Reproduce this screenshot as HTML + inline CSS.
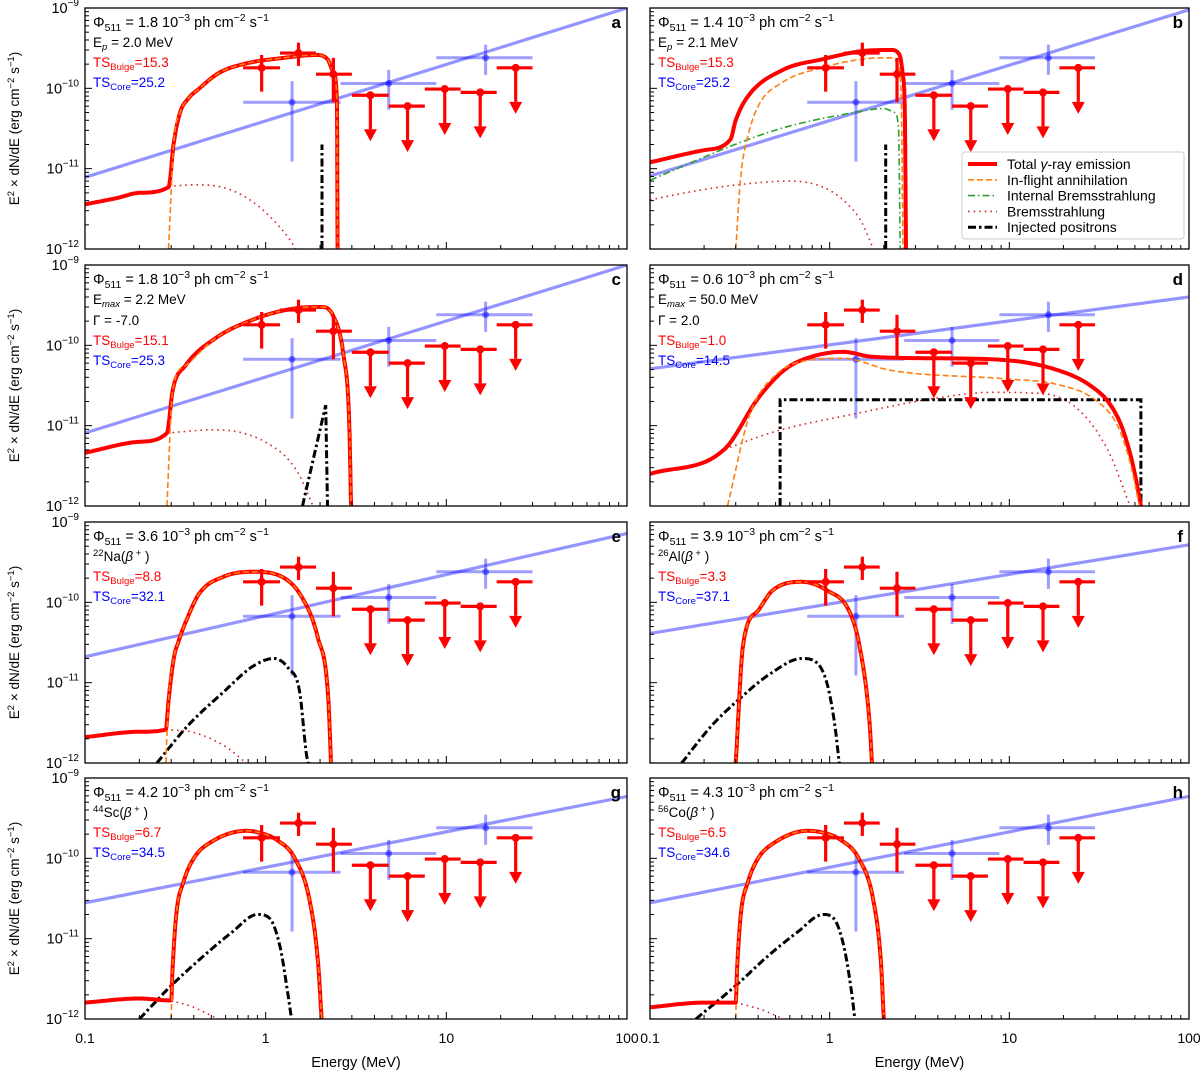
<!DOCTYPE html>
<html><head><meta charset="utf-8"><style>
html,body{margin:0;padding:0;background:#fff;}
svg{display:block;font-family:"Liberation Sans","DejaVu Sans",sans-serif;}
</style></head><body>
<svg id="chart" width="1200" height="1072" viewBox="0 0 1200 1072" xmlns="http://www.w3.org/2000/svg"></svg>
<script>
// ---- shared observed data ----
const bulgeE=[0.95,1.52,2.37];
const bulgeF=[1.8e-10,2.75e-10,1.5e-10];
const bulgeElo=[0.75,1.2,1.9];
const bulgeEhi=[1.2,1.9,3.0];
const bulgeFlo=[9.1e-11,1.9e-10,6.7e-11];
const bulgeFhi=[2.6e-10,3.7e-10,2.4e-10];
const ulE=[3.8,6.1,9.8,15.4,24.2];
const ulF=[8.2e-11,6.0e-11,9.8e-11,8.9e-11,1.8e-10];
const ulElo=[3.0,4.8,7.6,12,19];
const ulEhi=[4.8,7.6,12,19,30];
const coreE=[1.4,4.8,16.5];
const coreF=[6.7e-11,1.15e-10,2.4e-10];
const coreElo=[0.75,2.6,8.8];
const coreEhi=[2.6,8.8,30];
const coreFlo=[1.23e-11,5.4e-11,1.47e-10];
const coreFhi=[1.23e-10,1.7e-10,3.5e-10];
// core power-law fit: [value at 0.1 MeV, value at 100 MeV] per panel a..h
const plA=[7.8e-12,1.0e-9], plB=[8.1e-12,9.5e-10], plC=[8.1e-12,1.0e-9], plD=[5.1e-11,4.0e-10];
const plE=[2.1e-11,7.2e-10], plF=[4.1e-11,5.2e-10], plG=[2.8e-11,5.9e-10], plH=[2.8e-11,5.9e-10];
// ---- model curves [E, E2dN/dE] ----
const totalA=[[0.1,3.6e-12],[0.15,4.3e-12],[0.2,5e-12],[0.29,5.9e-12],[0.31,2.1e-11],[0.336,5e-11],[0.37,7.3e-11],[0.43,1e-10],[0.55,1.55e-10],[0.75,2e-10],[1.27,2.4e-10],[1.9,2.6e-10],[2.2,2.3e-10],[2.37,1.6e-10],[2.48,6.8e-11],[2.5,1e-12]];
const inflightA=[[0.29,1e-12],[0.31,2.1e-11],[0.336,5e-11],[0.37,7.3e-11],[0.43,1e-10],[0.55,1.55e-10],[0.75,2e-10],[1.27,2.4e-10],[1.9,2.6e-10],[2.2,2.3e-10],[2.37,1.6e-10],[2.48,6.8e-11],[2.5,1e-12]];
const bremsA=[[0.29,6e-12],[0.4,6.3e-12],[0.55,6e-12],[0.7,5e-12],[0.9,3.5e-12],[1.1,2.3e-12],[1.3,1.5e-12],[1.47,1e-12]];
const injA=[[2.05,1e-12],[2.05,2e-11]];

const totalB=[[0.1,1.2e-11],[0.2,1.7e-11],[0.28,2.3e-11],[0.3,4e-11],[0.35,7.9e-11],[0.55,1.7e-10],[0.91,2.3e-10],[1.5,2.9e-10],[2.2,3e-10],[2.45,2.6e-10],[2.55,1.5e-10],[2.62,5e-11],[2.66,1e-12]];
const inflightB=[[0.3,1e-12],[0.32,8e-12],[0.35,2.5e-11],[0.4,6e-11],[0.55,1.2e-10],[0.9,1.8e-10],[1.5,2.3e-10],[2.2,2.4e-10],[2.4,2e-10],[2.5,8e-11],[2.56,1e-12]];
const ibB=[[0.1,7.2e-12],[0.35,2.3e-11],[0.6,3.4e-11],[1.38,5e-11],[2.0,5.6e-11],[2.3,5e-11],[2.42,3e-11],[2.47,1e-12]];
const bremsB=[[0.1,4.1e-12],[0.2,5.5e-12],[0.35,6.5e-12],[0.6,7e-12],[0.9,6e-12],[1.2,4e-12],[1.5,2.2e-12],[1.75,1e-12]];
const injB=[[2.05,1e-12],[2.05,2e-11]];

const totalC=[[0.1,4.6e-12],[0.2,6.3e-12],[0.284,8.1e-12],[0.306,2.8e-11],[0.36,5.6e-11],[0.52,1.2e-10],[0.88,2.15e-10],[1.48,2.9e-10],[2.03,3e-10],[2.36,2.35e-10],[2.7,7.4e-11],[2.9,1.1e-11],[2.97,1e-12]];
const inflightC=[[0.284,1e-12],[0.306,2.8e-11],[0.36,5.6e-11],[0.52,1.2e-10],[0.88,2.15e-10],[1.48,2.9e-10],[2.03,3e-10],[2.36,2.35e-10],[2.7,7.4e-11],[2.9,1.1e-11],[2.97,1e-12]];
const bremsC=[[0.284,8.1e-12],[0.52,8.9e-12],[1.03,6e-12],[1.48,2.8e-12],[1.83,1e-12]];
const injC=[[1.6,1e-12],[2.15,1.8e-11],[2.2,1e-12]];

const totalD=[[0.1,2.5e-12],[0.26,5.1e-12],[0.4,2.2e-11],[0.57,5.1e-11],[0.79,7.2e-11],[1.19,8.3e-11],[1.72,7.2e-11],[3.9,6.9e-11],[9.9,6.5e-11],[19.7,4.7e-11],[28,3.2e-11],[36,1.9e-11],[42,1e-11],[47,4.5e-12],[51,2e-12],[54,1e-12]];
const inflightD=[[0.27,1e-12],[0.36,1.4e-11],[0.49,4.1e-11],[0.79,6.6e-11],[1.19,6.9e-11],[2.17,4.9e-11],[9.9,3.8e-11],[18,3.3e-11],[30,2.1e-11],[40,1e-11],[47,3.5e-12],[53,1e-12]];
const bremsD=[[0.26,5.1e-12],[0.52,8.7e-12],[1.37,1.4e-11],[3.9,2.2e-11],[8,2.6e-11],[15.5,2.5e-11],[24.5,1.55e-11],[35.6,4.8e-12],[47,1e-12]];
const injD=[[0.53,1e-12],[0.53,2.1e-11],[54,2.1e-11],[54,1e-12]];

const totalE=[[0.1,2.1e-12],[0.2,2.45e-12],[0.28,2.6e-12],[0.29,6e-12],[0.31,2e-11],[0.33,3.3e-11],[0.37,6.5e-11],[0.43,1.3e-10],[0.59,2.1e-10],[0.85,2.4e-10],[1.22,2.1e-10],[1.62,1.07e-10],[1.94,3.7e-11],[2.22,6.5e-12],[2.3,1e-12]];
const inflightE=[[0.28,1e-12],[0.29,6e-12],[0.31,2e-11],[0.33,3.3e-11],[0.37,6.5e-11],[0.43,1.3e-10],[0.59,2.1e-10],[0.85,2.4e-10],[1.22,2.1e-10],[1.62,1.07e-10],[1.94,3.7e-11],[2.22,6.5e-12],[2.3,1e-12]];
const bremsE=[[0.28,2.6e-12],[0.4,2.4e-12],[0.6,1.6e-12],[0.78,1e-12]];
const injE=[[0.25,1e-12],[0.37,2.9e-12],[0.59,7.8e-12],[0.85,1.6e-11],[1.11,2e-11],[1.34,1.5e-11],[1.54,7.8e-12],[1.68,1.3e-12],[1.72,1e-12]];

const totalF=[[0.3,1e-12],[0.33,3e-11],[0.4,7.9e-11],[0.48,1.4e-10],[0.7,1.8e-10],[0.97,1.4e-10],[1.28,7.9e-11],[1.46,3e-11],[1.66,3.6e-12],[1.72,1e-12]];
const inflightF=totalF;
const bremsF=[];
const injF=[[0.15,1e-12],[0.22,2.9e-12],[0.32,6.5e-12],[0.46,1.26e-11],[0.7,2e-11],[0.84,1.8e-11],[0.97,9.5e-12],[1.07,2.9e-12],[1.13,1e-12]];

const totalG=[[0.1,1.6e-12],[0.2,1.8e-12],[0.3,1.7e-12],[0.305,4e-12],[0.32,2e-11],[0.35,5e-11],[0.4,1e-10],[0.5,1.6e-10],[0.78,2.2e-10],[0.95,2.05e-10],[1.15,1.7e-10],[1.45,1e-10],[1.75,3e-11],[1.95,5e-12],[2.04,1e-12]];
const inflightG=[[0.3,1e-12],[0.305,4e-12],[0.32,2e-11],[0.35,5e-11],[0.4,1e-10],[0.5,1.6e-10],[0.78,2.2e-10],[0.95,2.05e-10],[1.15,1.7e-10],[1.45,1e-10],[1.75,3e-11],[1.95,5e-12],[2.04,1e-12]];
const bremsG=[[0.3,1.7e-12],[0.4,1.4e-12],[0.5,1.1e-12],[0.55,1e-12]];
const injG=[[0.2,1e-12],[0.3,2.6e-12],[0.45,6e-12],[0.65,1.2e-11],[0.9,2e-11],[1.05,1.8e-11],[1.2,8e-12],[1.33,2e-12],[1.39,1e-12]];

const totalH=[[0.1,1.4e-12],[0.2,1.6e-12],[0.3,1.6e-12],[0.305,4e-12],[0.32,2e-11],[0.35,5e-11],[0.4,1e-10],[0.5,1.6e-10],[0.75,2.2e-10],[0.95,2.05e-10],[1.15,1.7e-10],[1.45,1e-10],[1.75,3e-11],[1.93,5e-12],[2.0,1e-12]];
const inflightH=[[0.3,1e-12],[0.305,4e-12],[0.32,2e-11],[0.35,5e-11],[0.4,1e-10],[0.5,1.6e-10],[0.75,2.2e-10],[0.95,2.05e-10],[1.15,1.7e-10],[1.45,1e-10],[1.75,3e-11],[1.93,5e-12],[2.0,1e-12]];
const bremsH=[[0.3,1.6e-12],[0.42,1.3e-12],[0.55,1e-12]];
const injH=[[0.18,1e-12],[0.3,2.6e-12],[0.45,6e-12],[0.66,1.2e-11],[0.92,2e-11],[1.05,1.8e-11],[1.2,8e-12],[1.33,2e-12],[1.38,1e-12]];

const NS='http://www.w3.org/2000/svg';
const svg=document.getElementById('chart');
function mk(tag,attrs,parent){const e=document.createElementNS(NS,tag);for(const k in attrs)e.setAttribute(k,attrs[k]);(parent||svg).appendChild(e);return e;}

// monotone cubic (Fritsch-Carlson) smoothing in log-log space
function smoothRun(run){
 if(run.length<3)return run;
 const x=run.map(p=>Math.log10(p[0])),y=run.map(p=>Math.log10(p[1]));
 const n=x.length,d=[],m=new Array(n);
 for(let i=0;i<n-1;i++)d.push((y[i+1]-y[i])/(x[i+1]-x[i]));
 m[0]=d[0];m[n-1]=d[n-2];
 for(let i=1;i<n-1;i++){m[i]=(d[i-1]*d[i]<=0)?0:(d[i-1]+d[i])/2;}
 for(let i=0;i<n-1;i++){
  if(d[i]===0){m[i]=0;m[i+1]=0;continue;}
  const a=m[i]/d[i],b=m[i+1]/d[i],s=a*a+b*b;
  if(s>9){const t=3/Math.sqrt(s);m[i]=t*a*d[i];m[i+1]=t*b*d[i];}
 }
 const out=[];
 for(let i=0;i<n-1;i++){
  const h=x[i+1]-x[i],N=16;
  for(let k=0;k<N;k++){
   const t=k/N,t2=t*t,t3=t2*t;
   const yy=(2*t3-3*t2+1)*y[i]+(t3-2*t2+t)*h*m[i]+(-2*t3+3*t2)*y[i+1]+(t3-t2)*h*m[i+1];
   out.push([Math.pow(10,x[i]+t*h),Math.pow(10,yy)]);
  }
 }
 out.push(run[n-1]);
 return out;
}
function smoothPts(pts){
 const runs=[];let cur=[pts[0]];
 for(let i=1;i<pts.length;i++){
  if(pts[i][0]===pts[i-1][0]){runs.push(cur);cur=[pts[i-1],pts[i]];runs.push(cur);cur=[pts[i]];}
  else cur.push(pts[i]);
 }
 runs.push(cur);
 let res=[];
 runs.forEach(r=>{if(r.length<2)return;const s=(r.length===2&&r[0][0]===r[1][0])?r:smoothRun(r);res=res.concat(s);});
 return res.length?res:pts;
}

const colX=[[85,627],[650,1189]];
const rowY=[8,265,522,778];
const H=241;
const panels=[
 {id:'a',c:0,r:0,pl:plA,tot:totalA,inf:inflightA,ib:null,br:bremsA,inj:injA,flux:'1.8',l2:['E','p',' = 2.0 MeV'],l3:null,tsb:'15.3',tsc:'25.2'},
 {id:'b',c:1,r:0,pl:plB,tot:totalB,inf:inflightB,ib:ibB,br:bremsB,inj:injB,flux:'1.4',l2:['E','p',' = 2.1 MeV'],l3:null,tsb:'15.3',tsc:'25.2'},
 {id:'c',c:0,r:1,pl:plC,tot:totalC,inf:inflightC,ib:null,br:bremsC,inj:injC,flux:'1.8',l2:['E','max',' = 2.2 MeV'],l3:'Γ = -7.0',tsb:'15.1',tsc:'25.3'},
 {id:'d',c:1,r:1,pl:plD,tot:totalD,inf:inflightD,ib:null,br:bremsD,inj:injD,flux:'0.6',l2:['E','max',' = 50.0 MeV'],l3:'Γ = 2.0',tsb:'1.0',tsc:'14.5'},
 {id:'e',c:0,r:2,pl:plE,tot:totalE,inf:inflightE,ib:null,br:bremsE,inj:injE,flux:'3.6',iso:['22','Na'],tsb:'8.8',tsc:'32.1'},
 {id:'f',c:1,r:2,pl:plF,tot:totalF,inf:inflightF,ib:null,br:bremsF,inj:injF,flux:'3.9',iso:['26','Al'],tsb:'3.3',tsc:'37.1'},
 {id:'g',c:0,r:3,pl:plG,tot:totalG,inf:inflightG,ib:null,br:bremsG,inj:injG,flux:'4.2',iso:['44','Sc'],tsb:'6.7',tsc:'34.5'},
 {id:'h',c:1,r:3,pl:plH,tot:totalH,inf:inflightH,ib:null,br:bremsH,inj:injH,flux:'4.3',iso:['56','Co'],tsb:'6.5',tsc:'34.6'}
];

panels.forEach(p=>{
 const x0=colX[p.c][0],x1=colX[p.c][1],y0=rowY[p.r],y1=y0+H;
 const sx=v=>x0+(Math.log10(v)+1)/3*(x1-x0);
 const sy=v=>y0+(-9-Math.log10(v))/3*H;
 const g=mk('g',{});
 
 
 const cp=mk('clipPath',{id:'clip'+p.id},g);
 mk('rect',{x:x0,y:y0,width:x1-x0,height:H},cp);
 const plot=mk('g',{'clip-path':'url(#clip'+p.id+')'},g);
 const path=(pts,sm)=>(sm?smoothPts(pts):pts).map((q,i)=>(i?'L':'M')+sx(q[0]).toFixed(1)+','+sy(q[1]).toFixed(1)).join('');
 // ticks
 const ax=mk('g',{stroke:'#000','stroke-width':1},g);
 
 
 for(let d=-1;d<2;d++)for(let m=1;m<10;m++){const v=m*Math.pow(10,d);const X=sx(v);if(X>x1+0.5)continue;const L=m==1?7:4;mk('line',{x1:X,x2:X,y1:y1,y2:y1-L},ax);}
 for(let d=-12;d<-9;d++)for(let m=1;m<10;m++){const v=m*Math.pow(10,d);const Y=sy(v);const L=m==1?7:4;mk('line',{x1:x0,x2:x0+L,y1:Y,y2:Y},ax);}
 // power law core fit
 const pl=mk('line',{x1:sx(0.1),y1:sy(p.pl[0]),x2:sx(100),y2:sy(p.pl[1]),stroke:'#0000ff','stroke-opacity':0.42,'stroke-width':3.2},plot);
 
 
 // core points
 coreE.forEach((e,i)=>{
  const cg=mk('g',{stroke:'#0000ff','stroke-opacity':0.38,'stroke-width':3},plot);
  
  
  mk('line',{x1:sx(coreElo[i]),x2:sx(coreEhi[i]),y1:sy(coreF[i]),y2:sy(coreF[i])},cg);
  mk('line',{x1:sx(e),x2:sx(e),y1:sy(coreFlo[i]),y2:sy(coreFhi[i])},cg);
  mk('circle',{cx:sx(e),cy:sy(coreF[i]),r:3.5,fill:'#0000ff','fill-opacity':0.45,stroke:'none'},cg);
 });
 // curves
 if(p.br&&p.br.length){const b=mk('path',{d:path(p.br,true),fill:'none',stroke:'#d62728','stroke-width':1.6,'stroke-dasharray':'1.6,4'},plot);
  }
 if(p.ib){const b=mk('path',{d:path(p.ib,true),fill:'none',stroke:'#2ca02c','stroke-width':1.6,'stroke-dasharray':'7,3,1.5,3'},plot);
  }
 const inj=mk('path',{d:path(p.inj,p.id!=='d'&&p.id!=='c'),fill:'none',stroke:'#000','stroke-width':3,'stroke-dasharray':'8,3,2.5,3'},plot);
 
 
 const t=mk('path',{d:path(p.tot,true),fill:'none',stroke:'#ff0000','stroke-width':4,'stroke-linejoin':'round'},plot);
 
 
 const inf=mk('path',{d:path(p.inf,true),fill:'none',stroke:'#ff7f0e','stroke-width':1.6,'stroke-dasharray':'6,3'},plot);
 
 
 // bulge points
 bulgeE.forEach((e,i)=>{
  const bg=mk('g',{stroke:'#ff0000','stroke-width':3.2},plot);
  
  
  mk('line',{x1:sx(bulgeElo[i]),x2:sx(bulgeEhi[i]),y1:sy(bulgeF[i]),y2:sy(bulgeF[i])},bg);
  mk('line',{x1:sx(e),x2:sx(e),y1:sy(bulgeFlo[i]),y2:sy(bulgeFhi[i])},bg);
  mk('circle',{cx:sx(e),cy:sy(bulgeF[i]),r:4,fill:'#ff0000',stroke:'none'},bg);
 });
 ulE.forEach((e,i)=>{
  const ug=mk('g',{stroke:'#ff0000','stroke-width':3.2},plot);
  
  
  const X=sx(e),Y=sy(ulF[i]),Yb=Y+34;
  mk('line',{x1:sx(ulElo[i]),x2:sx(ulEhi[i]),y1:Y,y2:Y},ug);
  mk('line',{x1:X,x2:X,y1:Y,y2:Yb},ug);
  mk('polygon',{points:(X-6.5)+','+Yb+' '+(X+6.5)+','+Yb+' '+X+','+(Yb+12),fill:'#ff0000',stroke:'none'},ug);
  mk('circle',{cx:X,cy:Y,r:4,fill:'#ff0000',stroke:'none'},ug);
 });
 // frame
 const fr=mk('rect',{x:x0,y:y0,width:x1-x0,height:H,fill:'none',stroke:'#000','stroke-width':1.3},g);
 
 
 // text annotations
 const tx=x0+8;
 const t1=mk('text',{x:tx,y:y0+19,'font-size':14.5,fill:'#000'},g);
 
 
 t1.innerHTML='Φ<tspan font-size="10.5" dy="4">511</tspan><tspan dy="-4"> = '+p.flux+' 10</tspan><tspan font-size="10.5" dy="-6">−3</tspan><tspan dy="6"> ph cm</tspan><tspan font-size="10.5" dy="-6">−2</tspan><tspan dy="6"> s</tspan><tspan font-size="10.5" dy="-6">−1</tspan>';
 let ly=y0+39;
 const t2=mk('text',{x:tx,y:ly,'font-size':13.5,fill:'#000'},g);
 
 
 if(p.l2){t2.innerHTML=p.l2[0]+'<tspan font-size="9.5" font-style="italic" dy="3">'+p.l2[1]+'</tspan><tspan dy="-3">'+p.l2[2]+'</tspan>';}
 else{t2.innerHTML='<tspan font-size="9.5" dy="-5">'+p.iso[0]+'</tspan><tspan dy="5">'+p.iso[1]+'(</tspan><tspan font-style="italic">β</tspan><tspan font-size="9.5" dy="-5"> +</tspan><tspan dy="5"> )</tspan>';}
 if(p.l3){ly+=21;const t3=mk('text',{x:tx,y:ly,'font-size':13.5,fill:'#000'},g);t3.textContent=p.l3;
  }
 ly+=20;
 const t4=mk('text',{x:tx,y:ly,'font-size':13.5,fill:'#ff0000'},g);
 
 
 t4.innerHTML='TS<tspan font-size="9.5" dy="3">Bulge</tspan><tspan dy="-3">='+p.tsb+'</tspan>';
 ly+=20;
 const t5=mk('text',{x:tx,y:ly,'font-size':13.5,fill:'#0000ff'},g);
 
 
 t5.innerHTML='TS<tspan font-size="9.5" dy="3">Core</tspan><tspan dy="-3">='+p.tsc+'</tspan>';
 const pl2=mk('text',{x:x1-6,y:y0+20,'font-size':17,'font-weight':'bold','text-anchor':'end',fill:'#000'},g);
 pl2.textContent=p.id;
 
 
 // y tick labels and title on left column
 if(p.c===0){
  [-9,-10,-11,-12].forEach(d=>{
   const yl=mk('text',{x:x0-6,y:sy(Math.pow(10,d))+5,'font-size':14.5,'text-anchor':'end',fill:'#000'},g);
   
   
   yl.innerHTML='10<tspan font-size="10" dy="-7">−'+(-d)+'</tspan>';
  });
  const yc=y0+H/2;
  const yt=mk('text',{x:0,y:0,'font-size':13.5,'text-anchor':'middle',fill:'#000',transform:'translate(19,'+yc+') rotate(-90)'},g);
  
  
  yt.innerHTML='E<tspan font-size="9.5" dy="-5">2</tspan><tspan dy="5"> × dN/dE (erg cm</tspan><tspan font-size="9.5" dy="-5">−2</tspan><tspan dy="5"> s</tspan><tspan font-size="9.5" dy="-5">−1</tspan><tspan dy="5">)</tspan>';
 }
 if(p.r===3){
  ['0.1','1','10','100'].forEach((s,i)=>{
   const xl=mk('text',{x:sx(Math.pow(10,i-1)),y:y1+24,'font-size':14,'text-anchor':'middle',fill:'#000'},g);
   xl.textContent=s;
   
   
  });
  const xt=mk('text',{x:(x0+x1)/2,y:1067,'font-size':14.5,'text-anchor':'middle',fill:'#000'},g);
  xt.textContent='Energy (MeV)';
  
  
 }
 // legend in panel b
 if(p.id==='b'){
  const lg=mk('g',{},g);
  
  
  mk('rect',{x:962,y:152,width:222,height:87,fill:'#fff','fill-opacity':0.85,stroke:'#ccc',rx:3},lg);
  const items=[['Total γ-ray emission','#ff0000',4,''],['In-flight annihilation','#ff7f0e',1.6,'6,3'],['Internal Bremsstrahlung','#2ca02c',1.6,'7,3,1.5,3'],['Bremsstrahlung','#d62728',1.6,'1.6,4'],['Injected positrons','#000',3,'8,3,2.5,3']];
  items.forEach((it,i)=>{
   const yy=164+i*15.8;
   const ent=mk('g',{},lg);
   
   
   const ln=mk('line',{x1:968,x2:997,y1:yy,y2:yy,stroke:it[1],'stroke-width':it[2]},ent);
   if(it[3])ln.setAttribute('stroke-dasharray',it[3]);
   const tt=mk('text',{x:1007,y:yy+5,'font-size':14,fill:'#000'},ent);
   if(i===0){tt.innerHTML='Total <tspan font-style="italic">γ</tspan>-ray emission';}else tt.textContent=it[0];
  });
 }
});
</script>
</body></html>
